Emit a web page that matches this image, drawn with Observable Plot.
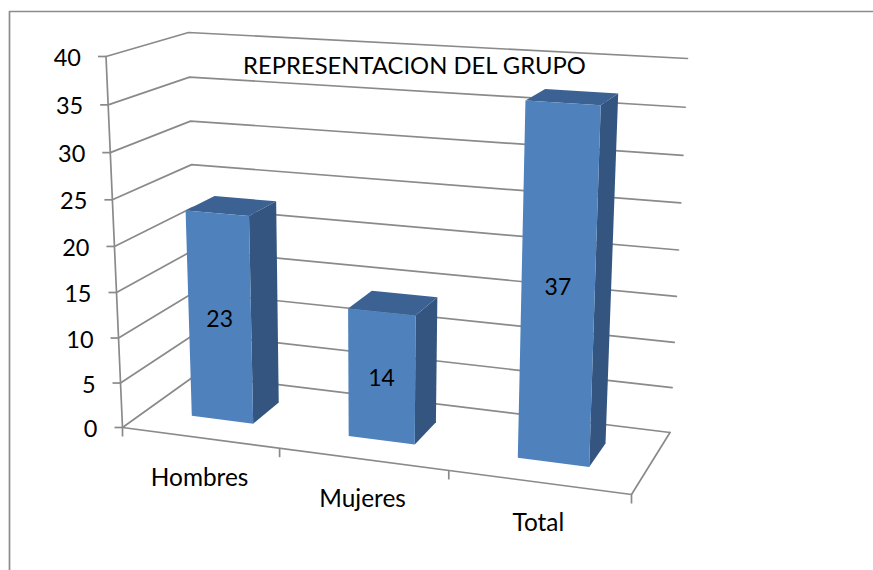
<!DOCTYPE html>
<html>
<head>
<meta charset="utf-8">
<script src="https://cdn.jsdelivr.net/npm/d3@7"></script>
<script src="https://cdn.jsdelivr.net/npm/@observablehq/plot@0.6"></script>
<style>
  html, body { margin: 0; padding: 0; background: #fff; }
  svg { display: block; }
</style>
</head>
<body>
<div id="chart"></div>
<script>
// ---- data ----
const categories = ["Hombres", "Mujeres", "Total"];
const values = [23, 14, 37];
const yTicks = [0, 5, 10, 15, 20, 25, 30, 35, 40];
const title = "REPRESENTACION DEL GRUPO";

// ---- oblique view: corners of the plot box in the picture ----
const W = 873, H = 570;
const yMax = 40;
const FLB = [122, 427], FRB = [631, 494], BLB = [196, 374], BRB = [669.5, 432];
const FLT = [105.5, 56], FRT = [646, 86.5], BLT = [188, 32], BRT = [687, 58];
const warpU = 1.12, warpV = 1.049;       // perspective foreshortening
const barFront = 0.33, barBack = 0.715;  // bar depth within the box
const barLeft = 0.3, barRight = 0.7;     // bar width within its slot

const lerp = (a, b, t) => [a[0] + (b[0] - a[0]) * t, a[1] + (b[1] - a[1]) * t];
const warp = (t, r) => t / (t + (1 - t) * r);
// slot: position along the category axis (0..3), value: along y, depth: 0 front .. 1 back
function project(slot, value, depth) {
  const u = warp(slot / categories.length, warpU);
  const v = warp(value / yMax, warpV);
  const bottom = lerp(lerp(FLB, FRB, u), lerp(BLB, BRB, u), depth);
  const top = lerp(lerp(FLT, FRT, u), lerp(BLT, BRT, u), depth);
  const [x, y] = lerp(bottom, top, v);
  return {x, y};
}

// ---- derived mark tables ----
const polygon = (id, corners) => corners.map(([s, val, d]) => ({id, ...project(s, val, d)}));
const frontFaces = [], sideFaces = [], topFaces = [];
values.forEach((val, i) => {
  const l = i + barLeft, r = i + barRight;
  frontFaces.push(...polygon(i, [[l, 0, barFront], [r, 0, barFront], [r, val, barFront], [l, val, barFront]]));
  sideFaces.push(...polygon(i, [[r, 0, barFront], [r, 0, barBack], [r, val, barBack], [r, val, barFront]]));
  topFaces.push(...polygon(i, [[l, val, barFront], [r, val, barFront], [r, val, barBack], [l, val, barBack]]));
});
const wallLines = yTicks.flatMap(t => [
  {id: t, ...project(0, t, 0)}, {id: t, ...project(0, t, 1)}, {id: t, ...project(3, t, 1)}
]);
const yAxisLine = [project(0, 0, 0), project(0, yMax, 0)];
const floorEdge = [project(0, 0, 0), project(3, 0, 0), project(3, 0, 1)];
const yTickRows = yTicks.map(t => ({t, ...project(0, t, 0)}));
const xTickRows = d3.range(categories.length + 1).map(i => project(i, 0, 0));
const xLabelRows = categories.map((c, i) => ({c, ...project(i + 0.5, 0, 0)}));
const valueLabelRows = values.map((val, i) => ({val, ...project(i + 0.5, val / 2, barFront)}));

const gridColor = "#8a8a8a";
const fontFamily = "Lato, 'Noto Sans', sans-serif";

const plot = Plot.plot({
  width: W, height: H,
  margin: 0,
  style: {background: "#fff", fontFamily},
  x: {domain: [0, W], range: [0, W], axis: null},
  y: {domain: [0, H], range: [0, H], axis: null},
  marks: [
    // outer chart frame
    Plot.line([[W, 11], [9, 11], [9, H]], {stroke: "#8c8c8c", strokeWidth: 1.7}),
    // walls
    Plot.line(wallLines, {x: "x", y: "y", z: "id", stroke: gridColor, strokeWidth: 1.7}),
    Plot.line(yAxisLine, {x: "x", y: "y", stroke: gridColor, strokeWidth: 1.7}),
    Plot.line(floorEdge, {x: "x", y: "y", stroke: gridColor, strokeWidth: 1.7}),
    // ticks
    Plot.link(yTickRows, {x1: d => d.x - 8, x2: "x", y1: "y", y2: "y", stroke: gridColor, strokeWidth: 1.7}),
    Plot.link(xTickRows, {x1: "x", x2: "x", y1: "y", y2: d => d.y + 9, stroke: gridColor, strokeWidth: 1.7}),
    // bars
    Plot.line(sideFaces, {x: "x", y: "y", z: "id", fill: "#33557f", stroke: "none"}),
    Plot.line(topFaces, {x: "x", y: "y", z: "id", fill: "#3b6292", stroke: "none"}),
    Plot.line(frontFaces, {x: "x", y: "y", z: "id", fill: "#4f81bd", stroke: "none"}),
    // text
    Plot.text(yTickRows, {x: d => d.x - 25, y: "y", dy: 2, text: d => String(d.t), textAnchor: "end", fontSize: 23.5, fill: "#000"}),
    Plot.text(xLabelRows, {x: "x", y: "y", dy: 40.5, text: "c", fontSize: 24.4, fill: "#000"}),
    Plot.text(valueLabelRows, {x: "x", y: "y", dy: 1.5, text: d => String(d.val), fontSize: 23, fill: "#000"}),
    Plot.text([title], {x: 414, y: 66, text: d => d, fontSize: 23.8, fill: "#000"})
  ]
});
document.getElementById("chart").append(plot);
</script>
</body>
</html>
